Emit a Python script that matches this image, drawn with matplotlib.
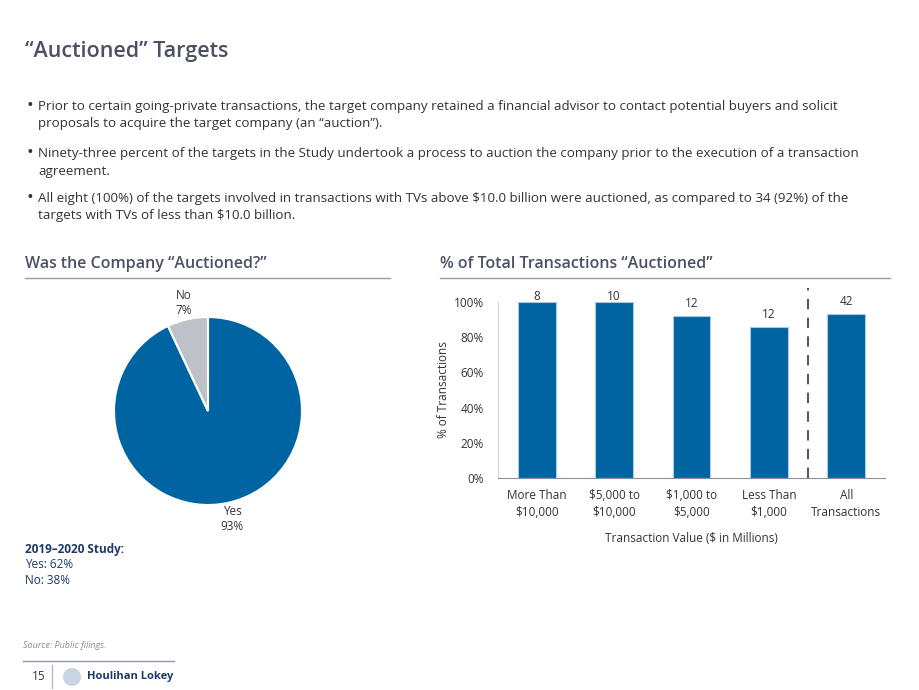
import matplotlib
matplotlib.use("Agg")
import matplotlib.pyplot as plt
from matplotlib.patches import Circle

plt.rcParams['font.family'] = ['Open Sans', 'DejaVu Sans']

# data
pie_labels = ["Yes", "No"]
pie_values = [93, 7]
categories = ["More Than\n$10,000", "$5,000 to\n$10,000", "$1,000 to\n$5,000", "Less Than\n$1,000", "All\nTransactions"]
pct_auctioned = [100.0, 100.0, 92.3, 85.7, 93.3]
counts = [8, 10, 12, 12, 42]
bullets = [
    "Prior to certain going-private transactions, the target company retained a financial advisor to contact potential buyers and solicit\nproposals to acquire the target company (an \u201cauction\u201d).",
    "Ninety-three percent of the targets in the Study undertook a process to auction the company prior to the execution of a transaction\nagreement.",
    "All eight (100%) of the targets involved in transactions with TVs above $10.0 billion were auctioned, as compared to 34 (92%) of the\ntargets with TVs of less than $10.0 billion.",
]

BLUE = "#0064A3"
GREY = "#BEC1C8"
HEAD = "#4B5064"
TXT = "#333333"
NAVY = "#1D3A68"

W, H = 920, 690
fig = plt.figure(figsize=(9.2, 6.9), dpi=100)


def fx(px):
    return px / W


def fy(py):
    return 1 - py / H


# title + bullets
fig.text(fx(25), fy(52), "\u201cAuctioned\u201d Targets", fontsize=15.5, fontweight="semibold",
         color=HEAD, va="center")
for yy, b in zip([106, 153, 198], bullets):
    fig.text(fx(27), fy(yy), "\u2022", fontsize=13, color=TXT, va="center")
    fig.text(fx(38), fy(yy - 6), b, fontsize=9.6, color=TXT, va="top", linespacing=1.45)

# section headings
for x0, x1, t in [(25, 390, "Was the Company \u201cAuctioned?\u201d"), (440, 890, "% of Total Transactions \u201cAuctioned\u201d")]:
    fig.text(fx(x0), fy(264), t, fontsize=11.5, fontweight="semibold", color=HEAD, va="center")
    fig.add_artist(plt.Line2D([fx(x0), fx(x1)], [fy(278), fy(278)], color="#9A9DA8", lw=1))

# pie
r = 94
cx, cy = 208, 411
side = 2.5 * r
axp = fig.add_axes([fx(cx - side / 2), fy(cy + side / 2), side / W, side / H])
axp.pie(pie_values, colors=[BLUE, GREY], startangle=90, counterclock=False,
        labels=[f"{l}\n{v}%" for l, v in zip(pie_labels, pie_values)], labeldistance=1.18,
        wedgeprops=dict(edgecolor="white", linewidth=1.5),
        textprops=dict(fontsize=8.5, color=TXT, ha="center", va="center"))
axp.set_xlim(-1.25, 1.25)
axp.set_ylim(-1.25, 1.25)
axp.set_aspect("equal")
axp.axis("off")

# bar chart
axb = fig.add_axes([fx(498), fy(478), (885 - 498) / W, (478 - 302) / H])
x = list(range(len(categories)))
axb.bar(x, pct_auctioned, width=0.49, color=BLUE, edgecolor="#A9C8E2", linewidth=0.8)
for xi, v, c in zip(x, pct_auctioned, counts):
    axb.text(xi, min(v + 7, 103), str(c), ha="center", va="center", fontsize=8.5, color=TXT, clip_on=False)
axb.plot([3.5, 3.5], [0, 108], ls=(0, (5, 4)), color="#555A6B", lw=1.5, clip_on=False)
axb.set_xlim(-0.5, 4.5)
axb.set_ylim(0, 100)
axb.set_yticks([0, 20, 40, 60, 80, 100])
axb.set_yticklabels([f"{t}%" for t in [0, 20, 40, 60, 80, 100]])
axb.set_xticks(x)
axb.set_xticklabels(categories, linespacing=1.4)
axb.tick_params(length=0, labelsize=8.5, labelcolor=TXT, pad=8)
axb.tick_params(axis="y", pad=10)
for s in ["top", "right"]:
    axb.spines[s].set_visible(False)
axb.spines["left"].set_color("#D0D3D8")
axb.spines["bottom"].set_color("#8E919B")
axb.set_ylabel("% of Transactions", fontsize=8.5, color=TXT, labelpad=3)
axb.set_xlabel("Transaction Value ($ in Millions)", fontsize=8.5, color=TXT, labelpad=9)

# previous study note
fig.text(fx(25), fy(549), "2019\u20132020 Study:", fontsize=8.5, fontweight="bold", color=NAVY, va="center")
fig.text(fx(25), fy(565), "Yes: 62%", fontsize=8.5, color=NAVY, va="center")
fig.text(fx(25), fy(581), "No: 38%", fontsize=8.5, color=NAVY, va="center")

# footer
fig.text(fx(23), fy(646), "Source: Public filings.", fontsize=6.5, style="italic", color="#8A8D96", va="center")
fig.add_artist(plt.Line2D([fx(23), fx(174)], [fy(661), fy(661)], color="#8E99AD", lw=1))
fig.text(fx(32), fy(677), "15", fontsize=8.5, color=TXT, va="center")
fig.add_artist(plt.Line2D([fx(52), fx(52)], [fy(665), fy(688)], color="#B5BAC4", lw=1))
fig.add_artist(Circle((0.72, 0.13), 0.09, transform=fig.dpi_scale_trans, facecolor="#C9D4E3", edgecolor="none"))
fig.text(fx(87), fy(677), "Houlihan Lokey", fontsize=8, fontweight="bold", color=NAVY, va="center")

fig.savefig("out.png", dpi=100)
